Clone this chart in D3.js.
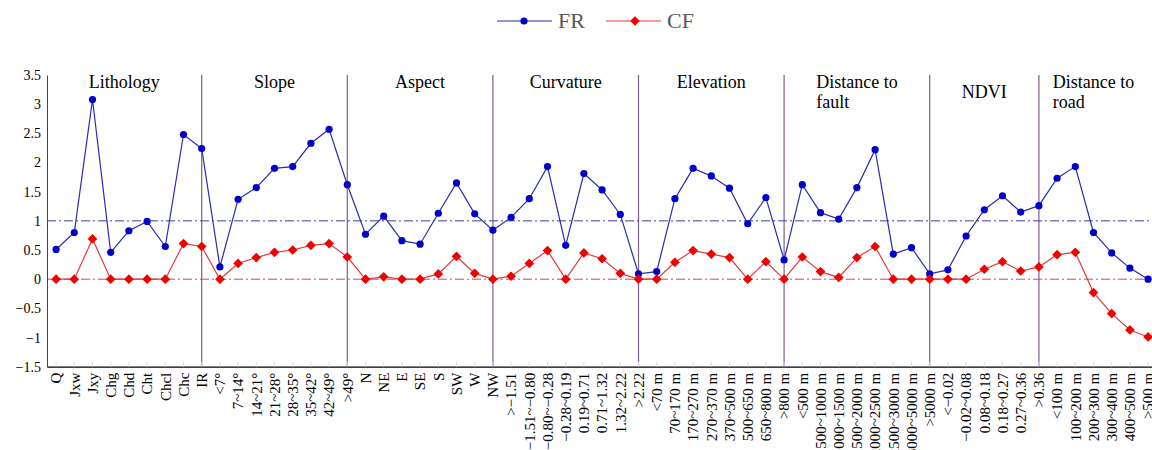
<!DOCTYPE html>
<html>
<head>
<meta charset="utf-8">
<script src="https://cdn.jsdelivr.net/npm/d3@7"></script>
<style>
  body { margin: 0; background: #fff; }
</style>
</head>
<body>
<svg id="chart" width="1152" height="450"></svg>
<script>
// factor groups and their classes
const groups = ["Lithology", "Slope", "Aspect", "Curvature", "Elevation", "Distance to fault", "NDVI", "Distance to road"];
const groupTitles = [["Lithology"], ["Slope"], ["Aspect"], ["Curvature"], ["Elevation"], ["Distance to", "fault"], ["NDVI"], ["Distance to", "road"]];
const groupSizes = [9, 8, 8, 8, 8, 8, 6, 6];

const categories = [
  "Q", "Jxw", "Jxy", "Chg", "Chd", "Cht", "Chcl", "Chc", "IR",
  "<7°", "7~14°", "14~21°", "21~28°", "28~35°", "35~42°", "42~49°", ">49°",
  "N", "NE", "E", "SE", "S", "SW", "W", "NW",
  ">−1.51", "−1.51~−0.80", "−0.80~−0.28", "−0.28~0.19", "0.19~0.71", "0.71~1.32", "1.32~2.22", ">2.22",
  "<70 m", "70~170 m", "170~270 m", "270~370 m", "370~500 m", "500~650 m", "650~800 m", ">800 m",
  "<500 m", "500~1000 m", "1000~1500 m", "1500~2000 m", "2000~2500 m", "2500~3000 m", "3000~5000 m", ">5000 m",
  "<−0.02", "−0.02~0.08", "0.08~0.18", "0.18~0.27", "0.27~0.36", ">0.36",
  "<100 m", "100~200 m", "200~300 m", "300~400 m", "400~500 m", ">500 m"
];

const frValues = [
  0.51, 0.80, 3.08, 0.46, 0.83, 0.99, 0.56, 2.48, 2.24,
  0.21, 1.37, 1.57, 1.90, 1.93, 2.33, 2.57, 1.62,
  0.77, 1.08, 0.66, 0.60, 1.13, 1.65, 1.12, 0.84,
  1.06, 1.38, 1.93, 0.58, 1.81, 1.53, 1.11, 0.09,
  0.13, 1.38, 1.90, 1.77, 1.56, 0.95, 1.40, 0.33,
  1.62, 1.14, 1.03, 1.57, 2.22, 0.43, 0.54, 0.09,
  0.16, 0.74, 1.19, 1.43, 1.15, 1.26,
  1.73, 1.93, 0.80, 0.45, 0.19, 0.00
];

const cfValues = [
  0, 0, 0.69, 0, 0, 0, 0, 0.61, 0.56,
  0, 0.27, 0.37, 0.46, 0.50, 0.58, 0.61, 0.38,
  0, 0.04, 0, 0, 0.09, 0.39, 0.10, 0,
  0.05, 0.27, 0.49, 0, 0.45, 0.35, 0.10, 0,
  0, 0.29, 0.49, 0.43, 0.37, 0, 0.30, 0,
  0.38, 0.13, 0.03, 0.37, 0.56, 0, 0, 0,
  0, 0, 0.17, 0.30, 0.14, 0.21,
  0.42, 0.46, -0.23, -0.59, -0.87, -0.99
];

const yTicks = [-1.5, -1, -0.5, 0, 0.5, 1, 1.5, 2, 2.5, 3, 3.5];
const refLines = [{ v: 1, color: "#3c3c9c" }, { v: 0, color: "#d24a4a" }];

const FONT = "Liberation Serif";
const width = 1152, height = 450;
const margin = { left: 47, top: 75, bottom: 366.7 };

const svg = d3.select("#chart");

const x = d3.scaleBand().domain(d3.range(categories.length)).range([margin.left, margin.left + 61 * 18.2]);
const cx = i => x(i) + x.bandwidth() / 2;
const y = d3.scaleLinear().domain([-1.5, 3.5]).range([margin.bottom, margin.top]);

// group separators: at the last class of every group except the final one
let lastIdx = [];
let acc = 0;
groupSizes.forEach(n => { acc += n; lastIdx.push(acc - 1); });

svg.append("g").selectAll("line")
  .data(lastIdx.slice(0, -1))
  .enter().append("line")
  .attr("x1", d => cx(d)).attr("x2", d => cx(d))
  .attr("y1", y(3.5)).attr("y2", y(-1.5))
  .attr("stroke", "#7d5f8e").attr("stroke-width", 1.2);

// reference lines FR = 1, CF = 0
svg.append("g").selectAll("line")
  .data(refLines)
  .enter().append("line")
  .attr("x1", margin.left).attr("x2", width)
  .attr("y1", d => y(d.v)).attr("y2", d => y(d.v))
  .attr("stroke", d => d.color).attr("stroke-width", 1)
  .attr("stroke-dasharray", "9,3,2,3");

// y axis
const yAxis = svg.append("g")
  .attr("transform", `translate(${margin.left},0)`)
  .call(d3.axisLeft(y).tickValues(yTicks).tickFormat(d3.format("")).tickSize(0).tickPadding(6));
yAxis.attr("font-family", FONT);
yAxis.select(".domain").attr("stroke", "#444");
yAxis.selectAll("text").attr("font-size", 14).attr("fill", "#000");

// x axis with rotated labels
const xAxis = svg.append("g")
  .attr("transform", `translate(0,${y(-1.5)})`)
  .call(d3.axisBottom(x).tickFormat(i => categories[i]).tickSize(-5).tickSizeOuter(0));
xAxis.attr("font-family", FONT);
xAxis.select(".domain").attr("stroke", "#000").attr("stroke-width", 1.3);
xAxis.selectAll(".tick line").attr("stroke", "#ddd");
xAxis.selectAll("text")
  .attr("font-size", 15).attr("fill", "#000")
  .attr("transform", "rotate(-90)")
  .attr("text-anchor", "end")
  .attr("x", -6).attr("y", 0).attr("dy", "0.35em");

// group titles (two-line titles are left aligned)
let start = margin.left;
groupTitles.forEach((lines, g) => {
  const end = cx(lastIdx[g]);
  const mid = (start + end) / 2;
  const t = svg.append("text")
    .attr("font-family", FONT)
    .attr("font-size", 18).attr("fill", "#000");
  const y0 = groups[g] === "NDVI" ? 98 : 88;
  lines.forEach((s, k) => {
    t.append("tspan").attr("y", y0 + k * 19.5).text(s);
  });
  if (lines.length === 1) {
    t.attr("text-anchor", "middle").selectAll("tspan").attr("x", mid);
  } else {
    const w = t.select("tspan").node().getComputedTextLength();
    t.selectAll("tspan").attr("x", mid - w / 2);
  }
  start = end;
});

// series
const lineGen = d3.line().x((d, i) => cx(i)).y(d => y(d));

svg.append("path").datum(frValues)
  .attr("d", lineGen).attr("fill", "none")
  .attr("stroke", "#2a2ab0").attr("stroke-width", 1.2);
svg.append("path").datum(cfValues)
  .attr("d", lineGen).attr("fill", "none")
  .attr("stroke", "#e23a3a").attr("stroke-width", 1.2);

svg.append("g").selectAll("circle")
  .data(frValues)
  .enter().append("circle")
  .attr("cx", (d, i) => cx(i)).attr("cy", d => y(d))
  .attr("r", 3.6).attr("fill", "#0000cc");

const diamond = d3.symbol().type(d3.symbolDiamond2).size(60);
svg.append("g").selectAll("path")
  .data(cfValues)
  .enter().append("path")
  .attr("d", diamond)
  .attr("transform", (d, i) => `translate(${cx(i)},${y(d)})`)
  .attr("fill", "#f00000");

// legend
const legend = svg.append("g");
const legendItems = [
  { name: "FR", color: "#2a2ab0", mark: "#0000cc", x: 497, shape: "circle" },
  { name: "CF", color: "#e23a3a", mark: "#f00000", x: 606, shape: "diamond" }
];
legendItems.forEach(d => {
  legend.append("line")
    .attr("x1", d.x).attr("x2", d.x + 55)
    .attr("y1", 21).attr("y2", 21)
    .attr("stroke", d.color).attr("stroke-width", 1.2);
  if (d.shape === "circle") {
    legend.append("circle").attr("cx", d.x + 27).attr("cy", 21).attr("r", 3.6).attr("fill", d.mark);
  } else {
    legend.append("path").attr("d", diamond).attr("transform", `translate(${d.x + 29},21)`).attr("fill", d.mark);
  }
  legend.append("text")
    .attr("x", d.x + 61).attr("y", 28)
    .attr("font-family", FONT)
    .attr("font-size", 22).attr("fill", "#595959")
    .text(d.name);
});
</script>
</body>
</html>
